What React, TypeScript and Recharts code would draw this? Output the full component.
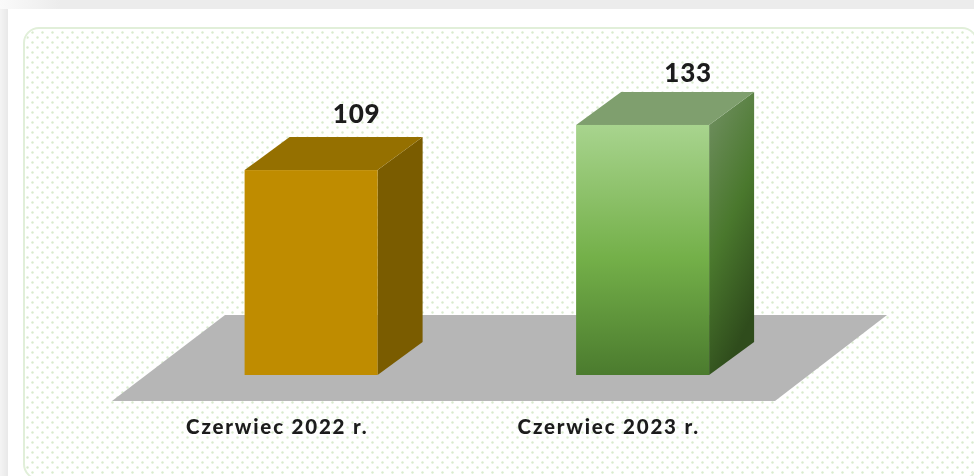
import React from 'react';
import { BarChart, Bar, XAxis, YAxis, LabelList, usePlotArea } from 'recharts';

const categories = ['Czerwiec 2022 r.', 'Czerwiec 2023 r.'];
const values = [109, 133];

const chartData = categories.map((name, i) => ({ name, value: values[i] }));

// how far the boxes stand behind the front edge of the floor
const SHIFT_X = 33.6;
const SHIFT_Y = -26;
// depth of one box
const DEPTH_X = 45;
const DEPTH_Y = -33;
// depth of the floor
const FLOOR_X = 112;
const FLOOR_Y = -86;
// gap between the back top edge of a box and its label
const LABEL_LIFT = [14.5, 9.5];

const FONT = 'Lato, "Open Sans", sans-serif';

const FACES = [
  { front: '#bf8c00', side: '#7a5c00', top: '#957000' },
  { front: 'url(#greenFront)', side: 'url(#greenSide)', top: '#7f9f6e' },
];

const Floor = () => {
  const plot = usePlotArea();
  if (!plot) return null;
  const bottom = plot.y + plot.height;
  const right = plot.x + plot.width;
  const points = [
    [plot.x, bottom],
    [right, bottom],
    [right + FLOOR_X, bottom + FLOOR_Y],
    [plot.x + FLOOR_X + 1, bottom + FLOOR_Y],
  ];
  return <polygon points={points.map((p) => p.join(',')).join(' ')} fill="#b6b6b6" />;
};

const Box = (props: any) => {
  const { x, y, width, height, index } = props;
  const c = FACES[index % FACES.length];
  const l = x + SHIFT_X;
  const t = y + SHIFT_Y;
  const r = l + width;
  const b = t + height;
  return (
    <g>
      <polygon
        points={`${r},${t} ${r + DEPTH_X},${t + DEPTH_Y} ${r + DEPTH_X},${b + DEPTH_Y} ${r},${b}`}
        fill={c.side}
      />
      <polygon
        points={`${l},${t} ${l + DEPTH_X},${t + DEPTH_Y} ${r + DEPTH_X},${t + DEPTH_Y} ${r},${t}`}
        fill={c.top}
      />
      <rect x={l} y={t} width={width} height={height} fill={c.front} />
    </g>
  );
};

const ValueLabel = (props: any) => {
  const { x, y, width, value, index } = props;
  return (
    <text
      x={x + width / 2 + SHIFT_X + DEPTH_X + 0.5}
      y={y + SHIFT_Y + DEPTH_Y - LABEL_LIFT[index]}
      textAnchor="middle"
      fontFamily={FONT}
      fontWeight={900}
      fontSize={26}
      letterSpacing={0.8}
      fill="#1c1c1c"
    >
      {value}
    </text>
  );
};

const CategoryTick = (props: any) => {
  const { x, payload } = props;
  return (
    <text
      x={x - 0.5}
      y={434}
      textAnchor="middle"
      fontFamily={FONT}
      fontWeight={900}
      fontSize={20.5}
      letterSpacing={1.8}
      fill="#1c1c1c"
    >
      {payload.value}
    </text>
  );
};

export default function App() {
  return (
    <div
      style={{
        position: 'absolute',
        left: 0,
        top: 0,
        width: 974,
        height: 476,
        overflow: 'hidden',
        background: '#fff',
      }}
    >
      {/* page chrome behind the card */}
      <div
        style={{
          position: 'absolute',
          left: 0,
          top: 0,
          width: 974,
          height: 9,
          background: 'linear-gradient(90deg, #fafafa 0, #ececec 60px)',
        }}
      />
      <div
        style={{
          position: 'absolute',
          left: 0,
          top: 9,
          width: 8,
          height: 467,
          background: 'linear-gradient(90deg, #f4f4f4 0, #e8e8e8 100%)',
        }}
      />
      <div
        style={{
          position: 'absolute',
          left: 23,
          top: 27,
          width: 955,
          height: 453,
          boxSizing: 'border-box',
          border: '2px solid #e1efd9',
          borderRadius: 16,
        }}
      />
      <svg
        width={974}
        height={476}
        style={{ position: 'absolute', left: 0, top: 0 }}
      >
        <defs>
          <pattern id="dots" width="10" height="10" patternUnits="userSpaceOnUse">
            <circle cx="2.5" cy="2.5" r="1.2" fill="#d8ebcd" />
            <circle cx="7.5" cy="7.5" r="1.2" fill="#d8ebcd" />
          </pattern>
        </defs>
        <rect x={25} y={29} width={951} height={449} rx={15} fill="url(#dots)" />
      </svg>
      <div style={{ position: 'absolute', left: 0, top: 0, filter: 'blur(0.4px)' }}>
        <BarChart
          width={974}
          height={476}
          data={chartData}
          margin={{ top: 25, right: 199, bottom: 45, left: 112 }}
          barCategoryGap={0}
        >
          <defs>
            <linearGradient id="greenFront" x1="0" y1="0" x2="0" y2="1">
              <stop offset="0" stopColor="#a8d48e" />
              <stop offset="0.53" stopColor="#74b049" />
              <stop offset="1" stopColor="#4b7b2e" />
            </linearGradient>
            <linearGradient id="greenSide" x1="0" y1="0" x2="0.35" y2="1">
              <stop offset="0.1" stopColor="#6b8c5a" />
              <stop offset="0.55" stopColor="#4a782d" />
              <stop offset="1" stopColor="#2f4c1c" />
            </linearGradient>
          </defs>
          <Floor />
          <XAxis
            dataKey="name"
            axisLine={false}
            tickLine={false}
            height={30}
            interval={0}
            tick={<CategoryTick />}
          />
          <YAxis hide domain={[0, 200]} />
          <Bar dataKey="value" barSize={133} shape={<Box />} isAnimationActive={false}>
            <LabelList dataKey="value" content={<ValueLabel />} />
          </Bar>
        </BarChart>
      </div>
    </div>
  );
}
